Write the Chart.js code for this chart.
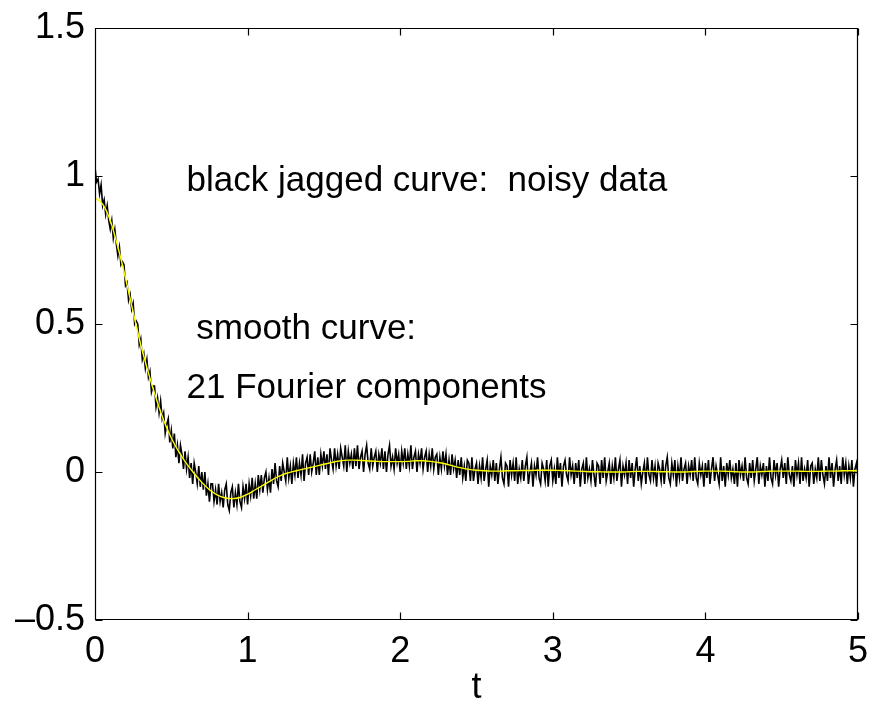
<!DOCTYPE html>
<html>
<head>
<meta charset="utf-8">
<script src="https://cdn.jsdelivr.net/npm/chart.js@4.4.1/dist/chart.umd.min.js"></script>
<style>
  html, body { margin: 0; padding: 0; background: #fff; }
  canvas { display: block; }
</style>
</head>
<body>
<canvas id="fourier-chart" width="871" height="704"></canvas>
<script>
"use strict";

// Sampling grids (t axis)
var noisyStep = 0.01;
var smoothStep = 0.05;

// Black jagged curve: noisy samples, t = 0 .. 5 every 0.01
var noisyData = [
    1.03, 0.98, 0.99, 0.94, 0.97, 0.90, 0.92, 0.87, 0.90, 0.85,
    0.82, 0.85, 0.79, 0.82, 0.77, 0.73, 0.76, 0.70, 0.71, 0.70,
    0.63, 0.64, 0.58, 0.60, 0.55, 0.57, 0.50, 0.51, 0.50, 0.43,
    0.45, 0.38, 0.40, 0.35, 0.38, 0.32, 0.34, 0.27, 0.29, 0.29,
    0.22, 0.25, 0.20, 0.24, 0.18, 0.20, 0.13, 0.16, 0.18, 0.10,
    0.14, 0.08, 0.13, 0.05, 0.09, 0.03, 0.09, 0.06, 0.01, 0.07,
    0.01, 0.05, -0.02, 0.03, -0.04, 0.03, 0.00, -0.04, 0.02, -0.05,
    0.00, -0.06, 0.00, -0.08, -0.04, -0.10, -0.04, -0.04, -0.10, -0.06,
    -0.11, -0.04, -0.10, -0.07, -0.12, -0.06, -0.04, -0.11, -0.13, -0.07,
    -0.05, -0.12, -0.07, -0.11, -0.04, -0.10, -0.12, -0.05, -0.09, -0.04,
    -0.11, -0.04, -0.08, -0.02, -0.09, -0.04, -0.09, -0.01, -0.06, -0.01,
    -0.07, -0.02, 0.00, -0.06, -0.02, -0.07, 0.01, -0.04, 0.03, -0.03,
    -0.05, 0.02, -0.03, 0.03, 0.00, -0.03, 0.05, -0.02, 0.02, -0.04,
    0.03, -0.01, 0.05, -0.02, 0.03, -0.01, 0.06, -0.03, 0.03, 0.05,
    -0.01, 0.06, 0.00, 0.03, 0.07, -0.01, 0.05, -0.01, 0.06, 0.02,
    0.07, 0.01, 0.06, -0.01, 0.08, 0.04, 0.01, 0.08, 0.02, 0.06,
    0.01, 0.08, 0.05, 0.02, 0.09, 0.00, 0.07, 0.03, 0.06, 0.01,
    0.08, 0.02, 0.09, 0.01, 0.05, 0.07, 0.00, 0.06, 0.09, 0.03,
    0.01, 0.08, 0.02, 0.05, 0.07, 0.00, 0.06, 0.03, 0.08, 0.01,
    0.07, 0.00, 0.06, 0.09, 0.02, 0.05, 0.01, 0.08, 0.03, 0.06,
    0.00, 0.07, 0.03, 0.08, 0.01, 0.06, 0.02, 0.09, 0.01, 0.05,
    0.07, 0.00, 0.06, 0.03, 0.08, 0.01, 0.05, 0.07, 0.00, 0.06,
    0.02, 0.08, 0.01, 0.05, 0.06, -0.01, 0.05, 0.01, 0.07, 0.02,
    0.06, -0.01, 0.04, -0.01, 0.06, 0.01, 0.04, -0.02, 0.04, -0.01,
    0.05, -0.02, 0.02, -0.03, 0.04, 0.03, -0.03, 0.05, -0.03, 0.01,
    0.03, -0.04, 0.02, -0.02, 0.05, -0.03, 0.01, 0.04, -0.05, 0.02,
    -0.01, 0.04, -0.03, 0.03, -0.04, 0.01, 0.05, -0.02, -0.04, 0.03,
    0.02, -0.05, 0.04, -0.01, 0.03, -0.03, 0.05, -0.04, 0.01, -0.02,
    0.04, -0.03, 0.02, 0.05, -0.04, 0.00, 0.03, -0.05, 0.02, -0.01,
    0.05, -0.02, -0.04, 0.03, 0.01, -0.03, 0.04, -0.05, 0.02, 0.04,
    -0.03, 0.01, -0.04, 0.05, -0.02, 0.03, -0.05, 0.02, 0.04, -0.01,
    -0.03, 0.05, -0.01, 0.02, -0.04, 0.03, -0.02, 0.04, -0.05, 0.01,
    0.03, -0.04, 0.05, -0.02, 0.01, -0.03, 0.04, -0.01, -0.05, 0.03,
    0.02, -0.04, 0.04, -0.02, 0.05, -0.03, 0.00, 0.03, -0.04, 0.02,
    -0.02, 0.05, -0.03, 0.01, 0.04, -0.05, 0.02, -0.01, 0.03, -0.04,
    0.04, -0.02, 0.03, -0.05, 0.01, 0.05, -0.03, 0.02, -0.04, 0.00,
    0.03, -0.04, 0.05, -0.01, -0.03, 0.04, -0.02, 0.02, -0.05, 0.03,
    0.01, -0.03, 0.04, -0.04, 0.02, 0.05, -0.02, -0.04, 0.03, -0.01,
    0.04, -0.05, 0.02, -0.02, 0.05, -0.03, 0.01, 0.03, -0.04, 0.02,
    -0.01, 0.04, -0.03, 0.05, -0.02, -0.04, 0.03, -0.01, 0.02, -0.05,
    0.03, -0.02, 0.04, -0.04, 0.01, 0.05, -0.03, 0.02, -0.01, -0.04,
    0.05, -0.03, 0.02, -0.05, 0.03, -0.01, 0.04, -0.02, 0.01, -0.04,
    0.03, -0.05, 0.04, -0.01, 0.02, -0.03, 0.05, -0.02, -0.04, 0.03,
    -0.02, 0.04, -0.03, 0.01, 0.05, -0.04, 0.02, -0.01, 0.03, -0.05,
    0.02, -0.03, 0.05, -0.02, -0.04, 0.04, -0.01, 0.03, -0.05, 0.01,
    0.04, -0.02, 0.03, -0.04, 0.05, -0.01, -0.03, 0.02, -0.05, 0.04,
    -0.01, 0.03, -0.04, 0.05, -0.03, 0.01, -0.02, 0.04, -0.05, 0.02,
    0.03, -0.04, 0.01, -0.02, 0.05, -0.03, 0.04, -0.01, -0.04, 0.02,
    -0.03, 0.05, -0.02, 0.03, -0.05, 0.01, 0.04, -0.03, 0.02, -0.04,
    0.05, -0.01, 0.03, -0.04, 0.02, -0.02, 0.04, -0.05, 0.01, 0.03,
    -0.02
];

// Yellow smooth curve: 21-component Fourier fit, t = 0 .. 5 every 0.05
var smoothData = [
    0.926, 0.905, 0.85, 0.76, 0.655, 0.54, 0.43, 0.335, 0.25, 0.175,
    0.115, 0.068, 0.028, -0.005, -0.035, -0.06, -0.077, -0.087, -0.09, -0.086,
    -0.075, -0.06, -0.045, -0.03, -0.016, -0.005, 0.002, 0.008, 0.014, 0.02,
    0.026, 0.032, 0.037, 0.04, 0.04, 0.039, 0.037, 0.036, 0.035, 0.035,
    0.035, 0.036, 0.038, 0.038, 0.036, 0.032, 0.027, 0.02, 0.014, 0.009,
    0.006, 0.004, 0.003, 0.003, 0.004, 0.004, 0.005, 0.005, 0.006, 0.006,
    0.006, 0.005, 0.004, 0.003, 0.002, 0.001, 0.001, 0.0, 0.0, 0.0,
    0.001, 0.002, 0.002, 0.002, 0.001, 0.001, 0.0, 0.0, 0.001, 0.002,
    0.003, 0.003, 0.003, 0.002, 0.001, 0.0, 0.0, 0.001, 0.002, 0.003,
    0.003, 0.003, 0.003, 0.002, 0.002, 0.002, 0.003, 0.003, 0.004, 0.004,
    0.004
];

// Axis ticks
var xTicks = [0, 1, 2, 3, 4, 5];
var yTicks = [-0.5, 0, 0.5, 1, 1.5];

// Text notes
var noteLabels = ["black jagged curve:  noisy data", " smooth curve:", "21 Fourier components"];
var noteT = [0.6, 0.6, 0.6];
var noteY = [1.0, 0.5, 0.3];

var FONT = "'Liberation Sans', Arial, Helvetica, sans-serif";

function toPoints(values, step) {
    return values.map(function (v, i) {
        return { x: +(i * step).toFixed(4), y: v };
    });
}

function fmtTick(v) {
    if (v < 0) return "\u2013" + String(Math.abs(v));
    return String(v);
}

// no label overflow padding, so the plot box stays where the padding puts it
function noOverflow(s) {
    s.paddingTop = 0;
    s.paddingBottom = 0;
    s.paddingLeft = 0;
    s.paddingRight = 0;
}

// Box with inward tick marks on all four sides, plus text notes
var matlabAxes = {
    id: "matlabAxes",
    afterDatasetsDraw: function (chart) {
        var ctx = chart.ctx;
        var a = chart.chartArea;
        var xs = chart.scales.x;
        var ys = chart.scales.y;
        var len = 7;
        var L = Math.round(a.left) + 0.5, R = Math.round(a.right) - 0.5;
        var T = Math.round(a.top) + 0.5, B = Math.round(a.bottom) - 0.5;
        ctx.save();
        ctx.strokeStyle = "#000";
        ctx.lineWidth = 1.2;
        ctx.beginPath();
        ctx.rect(L, T, R - L, B - T);
        xTicks.forEach(function (t) {
            var px = Math.round(xs.getPixelForValue(t)) + 0.5;
            ctx.moveTo(px, B); ctx.lineTo(px, B - len);
            ctx.moveTo(px, T); ctx.lineTo(px, T + len);
        });
        yTicks.forEach(function (t) {
            var py = Math.round(ys.getPixelForValue(t)) + 0.5;
            ctx.moveTo(L, py); ctx.lineTo(L + len, py);
            ctx.moveTo(R, py); ctx.lineTo(R - len, py);
        });
        ctx.stroke();

        ctx.fillStyle = "#000";
        ctx.font = "35px " + FONT;
        ctx.textAlign = "left";
        ctx.textBaseline = "middle";
        noteLabels.forEach(function (txt, i) {
            ctx.fillText(txt, xs.getPixelForValue(noteT[i]), ys.getPixelForValue(noteY[i]) + 5);
        });
        ctx.restore();
    }
};

new Chart(document.getElementById("fourier-chart"), {
    type: "line",
    data: {
        datasets: [{
            label: "21 Fourier components",
            data: toPoints(smoothData, smoothStep),
            borderColor: "#ffff00",
            borderWidth: 1.4,
            pointRadius: 0,
            cubicInterpolationMode: "monotone",
            order: 0
        }, {
            label: "noisy data",
            data: toPoints(noisyData, noisyStep),
            borderColor: "#000000",
            borderWidth: 1.6,
            pointRadius: 0,
            tension: 0,
            order: 1
        }]
    },
    options: {
        responsive: false,
        animation: false,
        layout: { padding: { top: 28, right: 13, left: 0, bottom: 0 } },
        plugins: {
            legend: { display: false },
            tooltip: { enabled: false }
        },
        scales: {
            x: {
                type: "linear",
                min: 0,
                max: 5,
                afterBuildTicks: function (s) { s.ticks = xTicks.map(function (v) { return { value: v }; }); },
                afterFit: function (s) { s.height = 84; noOverflow(s); },
                grid: { display: false, drawTicks: false, tickLength: 0 },
                border: { display: false },
                ticks: {
                    color: "#000",
                    padding: 10,
                    maxRotation: 0,
                    font: { family: FONT, size: 36 },
                    callback: function (v) { return fmtTick(v); }
                },
                title: {
                    display: true,
                    text: "t",
                    color: "#000",
                    padding: { top: 0, bottom: -6 },
                    font: { family: FONT, size: 36 }
                }
            },
            y: {
                type: "linear",
                min: -0.5,
                max: 1.5,
                afterBuildTicks: function (s) { s.ticks = yTicks.map(function (v) { return { value: v }; }); },
                afterFit: function (s) { s.width = 95; noOverflow(s); },
                grid: { display: false, drawTicks: false, tickLength: 0 },
                border: { display: false },
                ticks: {
                    color: "#000",
                    padding: 10,
                    font: { family: FONT, size: 36 },
                    callback: function (v) { return fmtTick(v); }
                }
            }
        }
    },
    plugins: [matlabAxes]
});
</script>
</body>
</html>
